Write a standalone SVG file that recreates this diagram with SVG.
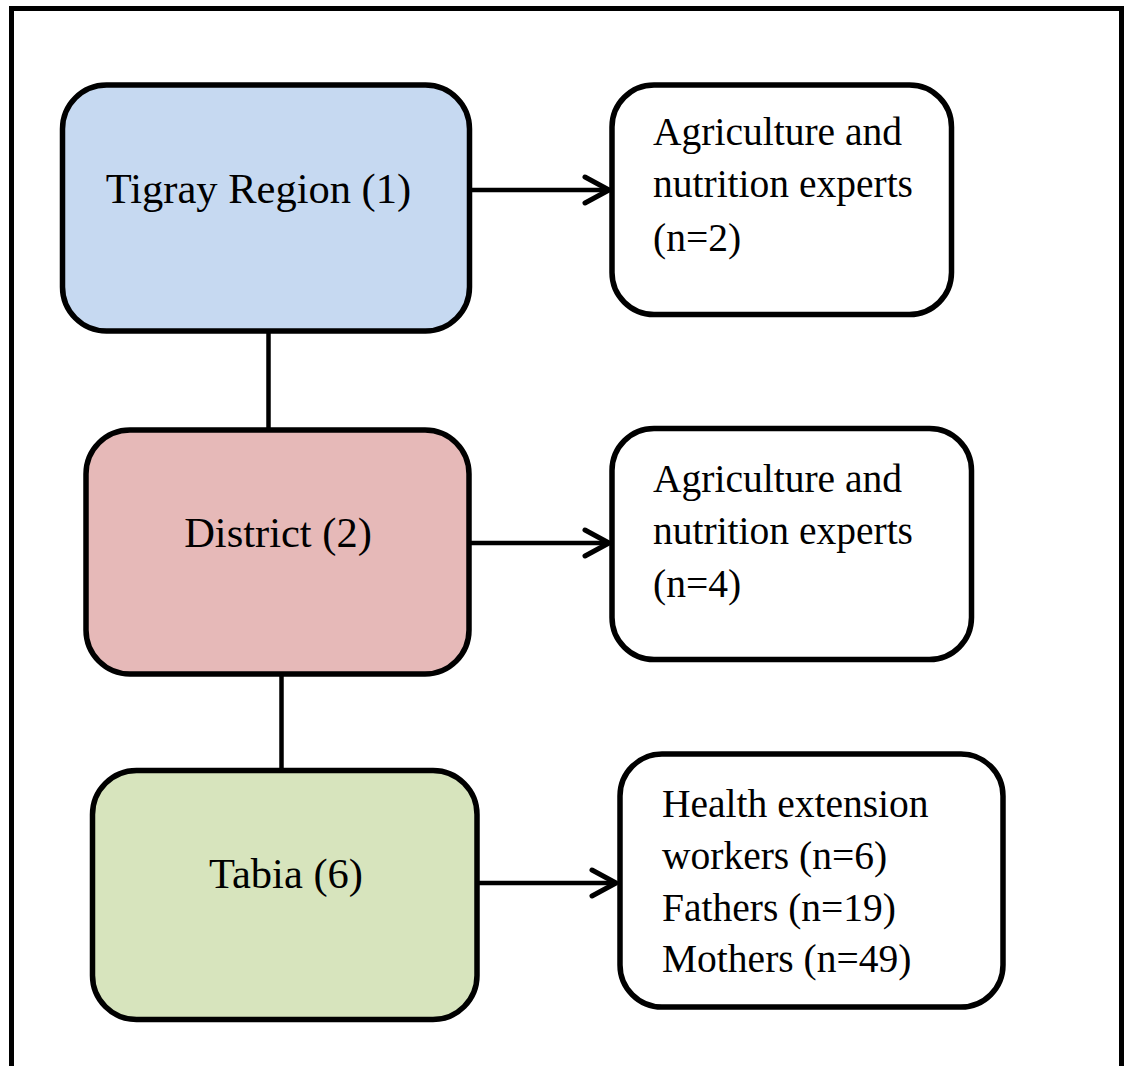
<svg xmlns="http://www.w3.org/2000/svg" width="1128" height="1066" viewBox="0 0 1128 1066">
<style>
.box{stroke:#000;stroke-width:5.5}
.t{font-family:"Liberation Serif","Times New Roman",serif;fill:#000}
.big{font-size:42.5px}
.sm{font-size:39.5px}
.ln{stroke:#000;stroke-width:4.5;fill:none}
.ah{stroke:#000;stroke-width:5;fill:none;stroke-linecap:round;stroke-linejoin:round}
</style>
<rect x="0" y="0" width="1128" height="1066" fill="#fff"/>
<rect x="11.5" y="8.5" width="1110" height="1070" fill="none" stroke="#000" stroke-width="5"/>
<g id="connectors">
<line class="ln" x1="268.5" y1="331" x2="268.5" y2="430"/>
<line class="ln" x1="281.5" y1="674" x2="281.5" y2="770"/>
<line class="ln" x1="469" y1="190" x2="608" y2="190"/>
<polyline class="ah" points="585,177 609,190 585,203"/>
<line class="ln" x1="469" y1="543" x2="608" y2="543"/>
<polyline class="ah" points="585,530 609,543 585,556"/>
<line class="ln" x1="477" y1="883" x2="615" y2="883"/>
<polyline class="ah" points="592,870 616,883 592,896"/>
</g>
<g id="tigray">
<rect class="box" x="62.5" y="85" width="407" height="246" rx="44" fill="#c6d9f1"/>
<text class="t big" x="258.5" y="203" text-anchor="middle">Tigray Region (1)</text>
</g>
<g id="district">
<rect class="box" x="86" y="430" width="383" height="244" rx="44" fill="#e6b9b8"/>
<text class="t big" x="278" y="547" text-anchor="middle">District (2)</text>
</g>
<g id="tabia">
<rect class="box" x="92.5" y="770.5" width="384.5" height="249" rx="44" fill="#d7e4bd"/>
<text class="t big" x="286" y="888" text-anchor="middle">Tabia (6)</text>
</g>
<g id="experts1">
<rect class="box" x="612" y="85" width="339.5" height="229.5" rx="42" fill="#fff"/>
<text class="t sm" x="653" y="145">Agriculture and</text>
<text class="t sm" x="653" y="197">nutrition experts</text>
<text class="t sm" x="653" y="251">(n=2)</text>
</g>
<g id="experts2">
<rect class="box" x="612" y="428.5" width="359.5" height="231" rx="42" fill="#fff"/>
<text class="t sm" x="653" y="492">Agriculture and</text>
<text class="t sm" x="653" y="544">nutrition experts</text>
<text class="t sm" x="653" y="597">(n=4)</text>
</g>
<g id="community">
<rect class="box" x="620" y="754" width="383" height="253" rx="42" fill="#fff"/>
<text class="t sm" x="662" y="817">Health extension</text>
<text class="t sm" x="662" y="869">workers (n=6)</text>
<text class="t sm" x="662" y="921">Fathers (n=19)</text>
<text class="t sm" x="662" y="972">Mothers (n=49)</text>
</g>
</svg>
